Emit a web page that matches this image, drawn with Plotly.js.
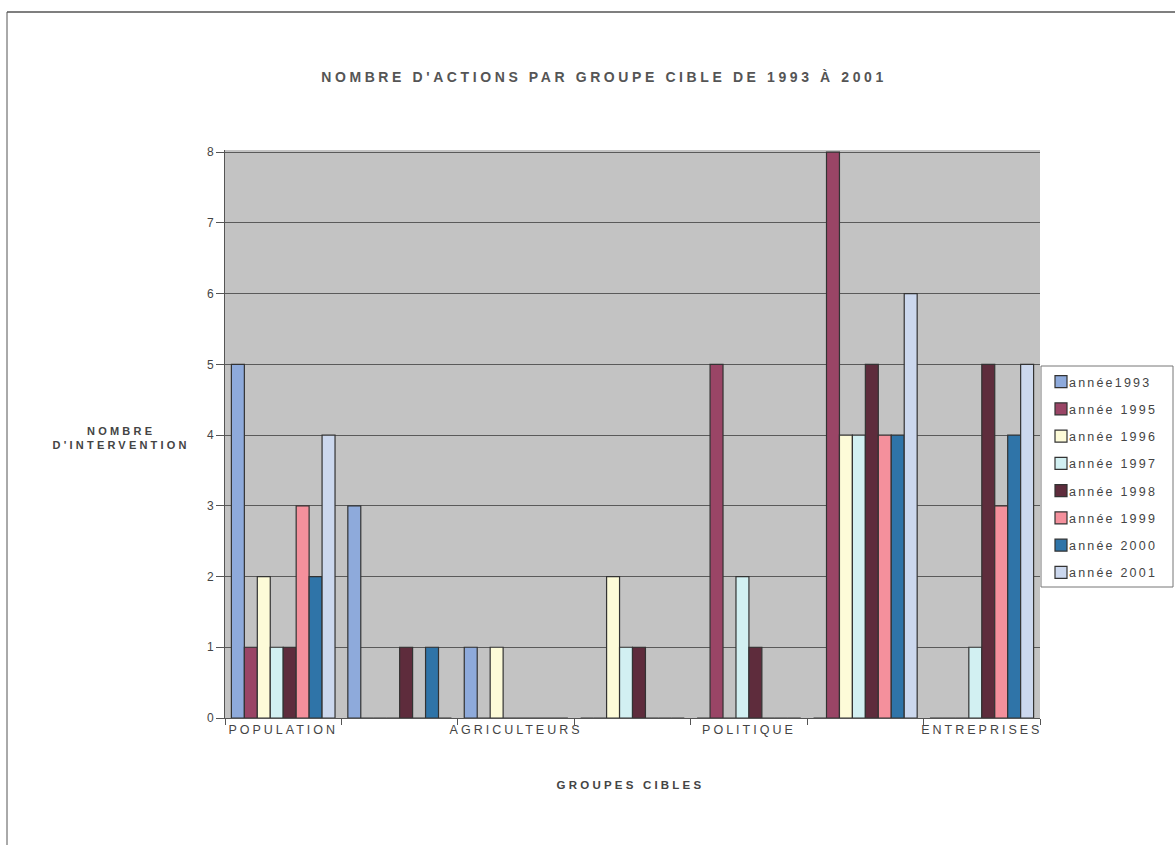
<!DOCTYPE html>
<html>
<head>
<meta charset="utf-8">
<script src="https://cdn.plot.ly/plotly-3.0.1.min.js"></script>
<style>
html,body{margin:0;padding:0;background:#fff;}
#chart{width:1175px;height:845px;}
#chart .gtitle{letter-spacing:3.6px;}
#chart .xtick text{letter-spacing:3px;}
#chart .annotation-text{letter-spacing:3.2px;}
#chart .legendtext{letter-spacing:2.2px;transform:translateX(-12px);}
#chart .legend .scrollbox, #chart .legend g{clip-path:none !important;}
</style>
</head>
<body>
<div id="chart"></div>
<script>
// Groups (only every other label is printed on the original axis)
const categories = ["POPULATION", "", "AGRICULTEURS", "", "POLITIQUE", "", "ENTREPRISES"];
const seriesNames = ["année1993", "année 1995", "année 1996", "année 1997", "année 1998", "année 1999", "année 2000", "année 2001"];
const y1993 = [5, 3, 1, 0, 0, 0, 0];
const y1995 = [1, 0, 0, 0, 5, 8, 0];
const y1996 = [2, 0, 1, 2, 0, 4, 0];
const y1997 = [1, 0, 0, 1, 2, 4, 1];
const y1998 = [1, 1, 0, 1, 1, 5, 5];
const y1999 = [3, 0, 0, 0, 0, 4, 3];
const y2000 = [2, 1, 0, 0, 0, 4, 4];
const y2001 = [4, 0, 0, 0, 0, 6, 5];
const yTicks = [0, 1, 2, 3, 4, 5, 6, 7, 8];

const seriesValues = [y1993, y1995, y1996, y1997, y1998, y1999, y2000, y2001];
const colors = ["#8eaadb", "#9a4566", "#fdfbd8", "#d2f0f2", "#5e2c3c", "#f4909c", "#2f74a8", "#ccd8ee"];

const xIdx = categories.map((c, i) => i);
const traces = seriesValues.map((vals, k) => ({
  type: "bar",
  name: seriesNames[k],
  x: xIdx,
  y: vals,
  legendgroup: "g" + k,
  marker: {color: colors[k], line: {color: "#333333", width: 1.2}},
  hoverinfo: "x+y+name"
}));

const labelVals = [], labelText = [];
categories.forEach((c, i) => { if (c) { labelVals.push(i); labelText.push(c); } });

// plot area in pixels: left 225, right 1040, top 150, bottom 718
const L = 225, R = 1040, T = 150, B = 718;
const px = v => (v - L) / (R - L);
const py = v => (B - v) / (B - T);

const layout = {
  width: 1175, height: 845,
  margin: {l: L, r: 1175 - R, t: T, b: 845 - B},
  paper_bgcolor: "#ffffff",
  plot_bgcolor: "#c3c3c3",
  font: {family: "Arial, 'Liberation Sans', sans-serif", color: "#444"},
  barmode: "group",
  bargap: 0.11,
  bargroupgap: 0,
  title: {
    text: "NOMBRE D'ACTIONS PAR GROUPE CIBLE DE 1993 À 2001",
    font: {size: 14, color: "#555", family: "Arial, 'Liberation Sans', sans-serif", weight: "bold"},
    x: 604 / 1175, xref: "container", xanchor: "center",
    y: 1 - 77 / 845, yref: "container", yanchor: "middle"
  },
  xaxis: {
    range: [-0.5, categories.length - 0.5],
    tickvals: labelVals,
    ticktext: labelText,
    ticks: "",
    tickfont: {size: 12.5, color: "#444"},
    showgrid: false,
    zeroline: false,
    showline: true, linecolor: "#555", linewidth: 1,
    minor: {tick0: -0.5, dtick: 1, ticks: "outside", ticklen: 6, tickcolor: "#555", showgrid: false},
    fixedrange: true
  },
  yaxis: {
    range: [0, 8.03],
    tickvals: yTicks,
    ticks: "outside", ticklen: 8, tickcolor: "#555",
    tickfont: {size: 12, color: "#444"},
    showgrid: true, gridcolor: "#5a5a5a", gridwidth: 1,
    zeroline: false,
    showline: true, linecolor: "#555", linewidth: 1,
    fixedrange: true
  },
  legend: {
    x: px(1041), xanchor: "left",
    y: py(367), yanchor: "top",
    bgcolor: "rgba(255,255,255,0)", borderwidth: 0,
    font: {size: 12.5, color: "#444"},
    traceorder: "grouped",
    tracegroupgap: 8,
    itemwidth: 30
  },
  annotations: [
    {text: "NOMBRE<br>D'INTERVENTION", xref: "paper", yref: "paper", x: px(121), y: py(438),
     xanchor: "center", yanchor: "middle",
     showarrow: false, align: "center", font: {size: 11, color: "#444", weight: "bold"}},
    {text: "GROUPES CIBLES", xref: "paper", yref: "paper", x: px(630), y: py(785),
     xanchor: "center", yanchor: "middle",
     showarrow: false, font: {size: 11.5, color: "#444", weight: "bold"}}
  ],
  shapes: [
    {type: "line", xref: "paper", yref: "paper", x0: px(7), x1: px(1175), y0: py(12), y1: py(12), line: {color: "#555", width: 1.5}},
    {type: "line", xref: "paper", yref: "paper", x0: px(7), x1: px(7), y0: py(12), y1: py(845), line: {color: "#555", width: 1}},
    // legend frame
    {type: "rect", xref: "paper", yref: "paper", x0: px(1041), x1: px(1173), y0: py(366), y1: py(587),
     fillcolor: "#ffffff", line: {color: "#777", width: 1}, layer: "above"}
  ],
  showlegend: true
};

Plotly.newPlot("chart", traces, layout, {displayModeBar: false, staticPlot: true});
</script>
</body>
</html>
